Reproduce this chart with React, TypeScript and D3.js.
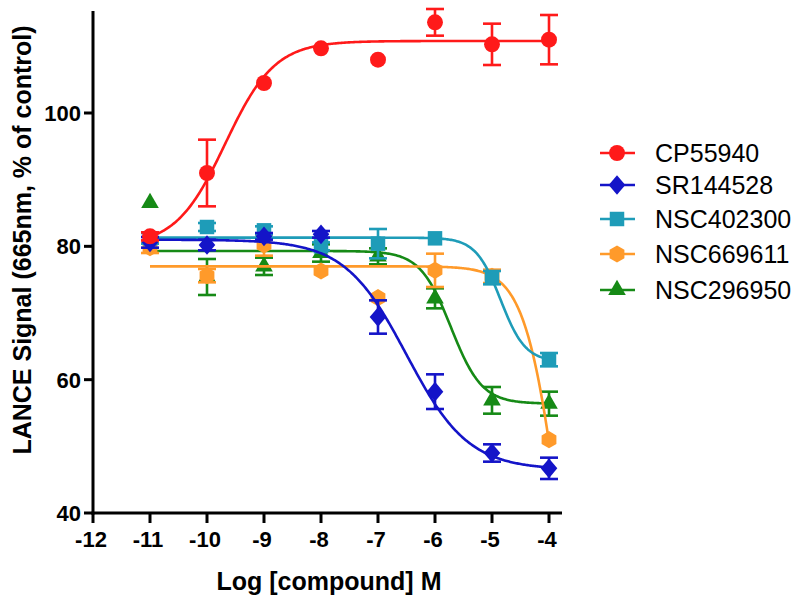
import React from 'react';
import * as d3 from 'd3';

// log concentrations
const logConc = [-11, -10, -9, -8, -7, -6, -5, -4];

const seriesNames = ['CP55940', 'SR144528', 'NSC402300', 'NSC669611', 'NSC296950'];
const seriesColors = ['#ff1a1a', '#1414c8', '#1e9cb8', '#ff9a2a', '#168a16'];
const seriesSymbols = ['circle', 'diamond', 'square', 'hexagon', 'triangle'];

const cp55940 = [81.5, 91.0, 104.5, 109.7, 108.0, 113.6, 110.3, 111.0];
const cp55940Err = [0.6, 5.0, 0, 0, 0, 2.0, 3.1, 3.7];
const sr144528 = [80.6, 80.2, 81.5, 81.8, 69.4, 58.2, 49.0, 46.7];
const sr144528Err = [0.8, 0.8, 0.5, 0.5, 2.5, 2.6, 1.3, 1.6];
const nsc402300 = [81.2, 82.9, 82.4, 80.0, 80.4, 81.2, 75.3, 63.0];
const nsc402300Err = [0.8, 0.6, 0.6, 0.6, 2.2, 0, 1.0, 1.0];
const nsc669611 = [79.8, 75.6, 80.2, 76.3, 72.3, 76.4, 75.5, 51.0];
const nsc669611Err = [0.8, 1.0, 1.6, 0, 0, 2.5, 1.0, 0];
const nsc296950 = [86.5, 75.4, 77.0, 79.0, 78.5, 72.2, 56.9, 56.4];
const nsc296950Err = [0, 2.7, 1.3, 1.3, 1.2, 1.5, 2.0, 1.8];

// fitted curve parameters: [bottom, top, logEC50, hill]
const fitParams = [
  [80, 110.8, -9.68, 1],
  [46.5, 81.0, -6.5, -0.8],
  [62.7, 81.3, -4.85, -2.0],
  [0, 77, -3.8, -1.42],
  [56.4, 79.3, -5.72, -1.6],
];

const xTicks = [-12, -11, -10, -9, -8, -7, -6, -5, -4];
const yTicks = [40, 60, 80, 100];

const values = [cp55940, sr144528, nsc402300, nsc669611, nsc296950];
const errors = [cp55940Err, sr144528Err, nsc402300Err, nsc669611Err, nsc296950Err];

const legendY = [153, 185, 219, 254, 290];

const diamond = {
  draw(ctx: any, size: number) {
    const h = Math.sqrt(size) * 0.72, w = h * 0.85;
    ctx.moveTo(0, -h); ctx.lineTo(w, 0); ctx.lineTo(0, h); ctx.lineTo(-w, 0); ctx.closePath();
  },
};
const hexagon = {
  draw(ctx: any, size: number) {
    const r = Math.sqrt(size / 2.598);
    for (let i = 0; i < 6; i++) {
      const a = Math.PI / 6 + (i * Math.PI) / 3;
      const px = r * Math.cos(a), py = r * Math.sin(a);
      i === 0 ? ctx.moveTo(px, py) : ctx.lineTo(px, py);
    }
    ctx.closePath();
  },
};

const symbolPath = (kind: string) => {
  if (kind === 'circle') return d3.symbol(d3.symbolCircle, 200)();
  if (kind === 'diamond') return d3.symbol(diamond as any, 185)();
  if (kind === 'square') return d3.symbol(d3.symbolSquare, 210)();
  if (kind === 'hexagon') return d3.symbol(hexagon as any, 190)();
  return d3.symbol(d3.symbolTriangle, 135)();
};

const App = () => {
  const x = d3.scaleLinear().domain([-12, -4]).range([93, 549]);
  const y = d3.scaleLinear().domain([40, 115]).range([513, 13]);
  const font = 'Arial, "Liberation Sans", sans-serif';

  const fitLine = (p: number[]) => {
    const [b, t, ec, h] = p;
    const pts = d3.range(-11, -3.999, 0.02).map((v) => [v, b + (t - b) / (1 + Math.pow(10, (ec - v) * h))]);
    return d3.line().x((d) => x(d[0])).y((d) => y(d[1]))(pts as any);
  };

  const order = [4, 3, 2, 1, 0];

  return (
    <svg width={800} height={603} style={{ position: 'absolute', left: 0, top: 0, background: '#fff' }}>
      {/* series */}
      {order.map((si) => (
        <g key={si} stroke={seriesColors[si]} fill={seriesColors[si]}>
          <path d={fitLine(fitParams[si]) || ''} fill="none" strokeWidth={2.6} />
          {logConc.map((c, i) => {
            const e = errors[si][i];
            const cx = x(c);
            return (
              <g key={i} strokeWidth={2.6}>
                {e > 0 && (
                  <>
                    <line x1={cx} x2={cx} y1={y(values[si][i] - e)} y2={y(values[si][i] + e)} />
                    <line x1={cx - 9} x2={cx + 9} y1={y(values[si][i] + e)} y2={y(values[si][i] + e)} />
                    <line x1={cx - 9} x2={cx + 9} y1={y(values[si][i] - e)} y2={y(values[si][i] - e)} />
                  </>
                )}
                <path d={symbolPath(seriesSymbols[si]) || ''} transform={`translate(${cx},${y(values[si][i])})`} stroke="none" />
              </g>
            );
          })}
        </g>
      ))}

      {/* axes */}
      <g stroke="#000" strokeWidth={3}>
        <line x1={93} x2={93} y1={11} y2={514.5} />
        <line x1={91.5} x2={562} y1={513} y2={513} />
        {yTicks.map((t) => (
          <line key={t} x1={84} x2={93} y1={y(t)} y2={y(t)} />
        ))}
        {xTicks.map((t) => (
          <line key={t} x1={x(t)} x2={x(t)} y1={513} y2={523} />
        ))}
      </g>
      {yTicks.map((t) => (
        <text key={t} x={81} y={y(t) + 8} textAnchor="end" fontFamily={font} fontWeight="bold" fontSize={22}>
          {t}
        </text>
      ))}
      {xTicks.map((t) => (
        <text key={t} x={x(t) - 2} y={547} textAnchor="middle" fontFamily={font} fontWeight="bold" fontSize={22}>
          {t}
        </text>
      ))}
      <text x={329} y={590} textAnchor="middle" fontFamily={font} fontWeight="bold" fontSize={25}>
        Log [compound] M
      </text>
      <text
        transform="translate(31,240) rotate(-90)"
        textAnchor="middle"
        fontFamily={font}
        fontWeight="bold"
        fontSize={25}
      >
        LANCE Signal (665nm, % of control)
      </text>

      {/* legend */}
      {seriesNames.map((n, i) => (
        <g key={n}>
          <line x1={600} x2={635} y1={legendY[i]} y2={legendY[i]} stroke={seriesColors[i]} strokeWidth={2.6} />
          <path d={symbolPath(seriesSymbols[i]) || ''} transform={`translate(617,${legendY[i]})`} fill={seriesColors[i]} />
          <text x={655} y={legendY[i] + 9} fontFamily={font} fontSize={25}>
            {n}
          </text>
        </g>
      ))}
    </svg>
  );
};

export default App;
